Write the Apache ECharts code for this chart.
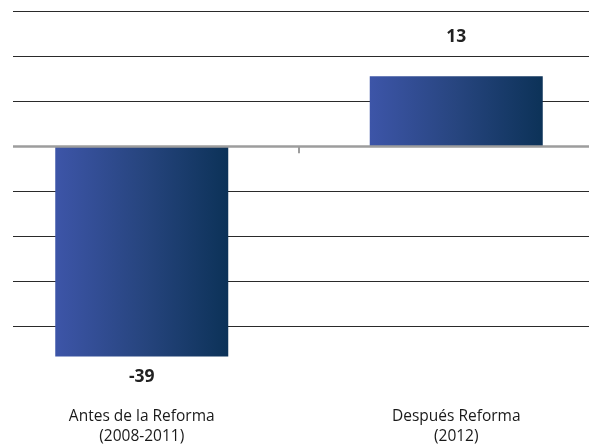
<!DOCTYPE html>
<html>
<head>
<meta charset="utf-8">
<script src="https://cdn.jsdelivr.net/npm/echarts@6/dist/echarts.min.js"></script>
<style>
  html, body { margin: 0; padding: 0; background: #fff; }
  #chart { width: 589px; height: 448px; }
</style>
</head>
<body>
<div id="chart"></div>
<script>
var categories = ['Antes de la Reforma\n(2008-2011)', 'Después Reforma\n(2012)']
var values = [-39, 13]
// y axis: gridlines every 25/3, no tick labels shown
var axisStep = 25 / 3
var axisMin = -4 * axisStep
var axisMax = 3 * axisStep

var font = 'Open Sans'
var chart = echarts.init(document.getElementById('chart'))

var option = {
  animation: false,
  grid: {
    left: -15.5,
    width: 629,
    top: 11.5,
    bottom: 122,
    outerBoundsMode: 'none'
  },
  xAxis: [{
    type: 'category',
    data: categories,
    position: 'bottom',
    axisLine: { show: false, onZero: false },
    axisTick: { show: false },
    axisLabel: {
      margin: 80.5,
      fontFamily: font,
      fontSize: 15.5,
      lineHeight: 20,
      color: '#1a1a1a'
    }
  }, {
    // zero line with the tick between the two bars
    type: 'category',
    data: categories,
    position: 'top',
    z: 5,
    axisLine: { show: true, onZero: true, lineStyle: { color: '#9d9d9d', width: 2.5 } },
    axisTick: { show: true, inside: true, length: 7, lineStyle: { color: '#9d9d9d', width: 2 } },
    axisLabel: { show: false }
  }],
  yAxis: {
    type: 'value',
    min: axisMin,
    max: axisMax,
    interval: axisStep,
    axisLine: { show: false },
    axisTick: { show: false },
    axisLabel: { show: false },
    splitLine: { lineStyle: { color: '#2a2a2a', width: 1.2 } }
  },
  graphic: [{
    type: 'rect',
    left: 0,
    top: 0,
    z: 100,
    shape: { width: 13, height: 448 },
    style: { fill: '#fff' }
  }],
  series: [{
    type: 'bar',
    xAxisIndex: 0,
    barWidth: 173,
    clip: false,
    data: values.map(function (v) {
      return {
        value: v,
        label: { position: v < 0 ? 'bottom' : 'top', distance: v < 0 ? 11 : 30 }
      }
    }),
    label: {
      show: true,
      fontFamily: font,
      fontWeight: 'bold',
      fontSize: 17.5,
      color: '#222'
    },
    itemStyle: {
      color: new echarts.graphic.LinearGradient(0, 0, 1, 0, [
        { offset: 0, color: '#3d55a8' },
        { offset: 0.5, color: '#27457f' },
        { offset: 1, color: '#0c3258' }
      ])
    }
  }]
}

chart.setOption(option)
</script>
</body>
</html>
